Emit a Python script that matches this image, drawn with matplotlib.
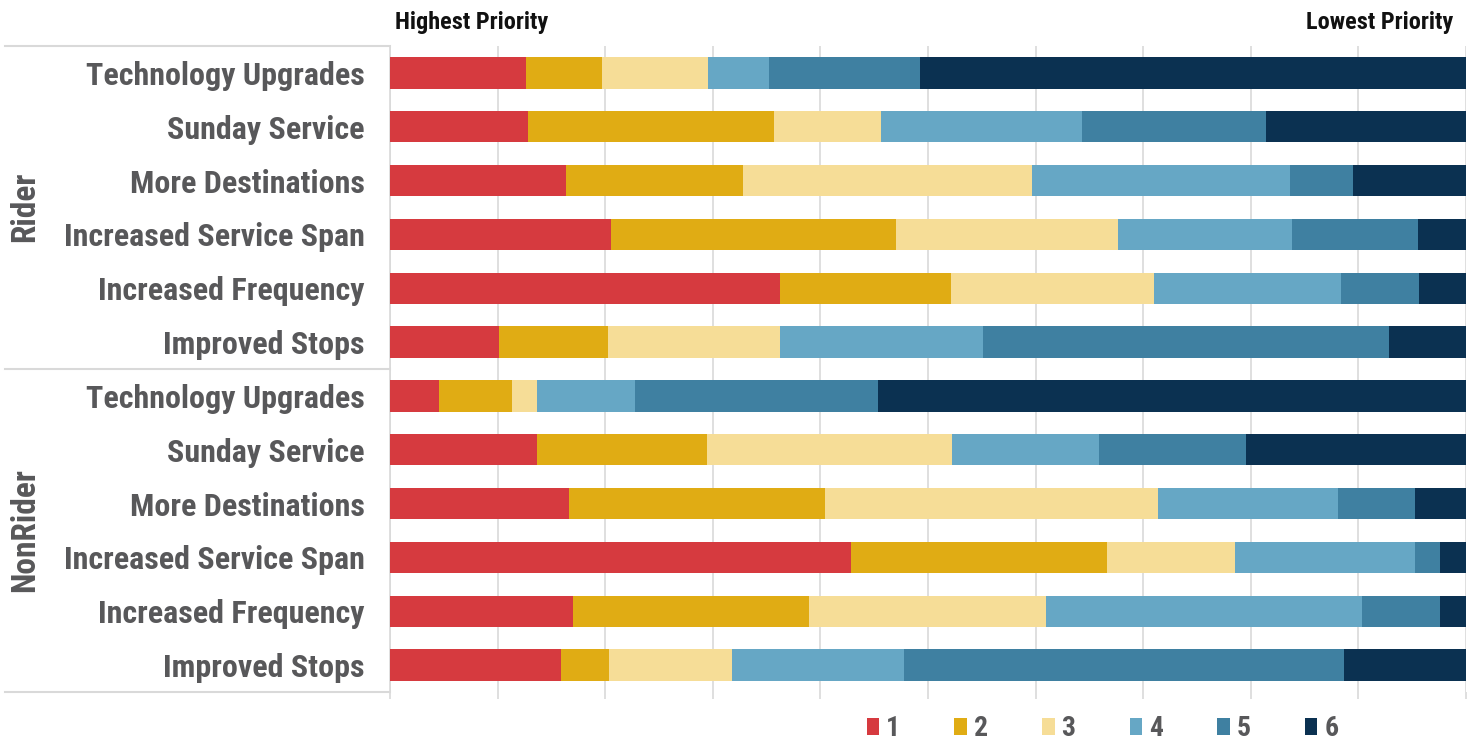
import numpy as np
import matplotlib
matplotlib.use('agg')
import matplotlib.pyplot as plt
from matplotlib.patches import Patch
from matplotlib import font_manager

# survey: share of respondents ranking each improvement 1 (highest) .. 6 (lowest)
categories = ['Technology Upgrades', 'Sunday Service', 'More Destinations',
              'Increased Service Span', 'Increased Frequency', 'Improved Stops']
groups = ['Rider', 'NonRider']
ranks = ['1', '2', '3', '4', '5', '6']

rider = [
    [12.6, 7.1, 9.9, 5.6, 14.1, 50.7],
    [12.8, 22.9, 9.9, 18.7, 17.1, 18.6],
    [16.4, 16.4, 26.9, 23.9, 5.9, 10.5],
    [20.5, 26.5, 20.7, 16.1, 11.7, 4.5],
    [36.2, 15.9, 18.9, 17.4, 7.2, 4.4],
    [10.1, 10.2, 15.9, 18.9, 37.7, 7.2],
]
nonrider = [
    [4.6, 6.7, 2.4, 9.1, 22.6, 54.6],
    [13.7, 15.8, 22.7, 13.7, 13.7, 20.4],
    [16.6, 23.8, 31.0, 16.7, 7.2, 4.7],
    [42.8, 23.8, 11.9, 16.8, 2.3, 2.4],
    [17.0, 21.9, 22.1, 29.3, 7.3, 2.4],
    [15.9, 4.5, 11.4, 16.0, 40.9, 11.3],
]

colors = ['#d63a3f', '#e0ac14', '#f6dd97', '#66a7c5', '#3f80a1', '#0b3151']
label_color = '#58585a'

available = {f.name for f in font_manager.fontManager.ttflist}
family = 'DejaVu Sans'
for name in ['Liberation Sans Narrow', 'Roboto Condensed', 'DejaVu Sans Condensed']:
    if name in available:
        family = name
        break
plt.rcParams['font.family'] = [family, 'DejaVu Sans']

data = np.array(rider + nonrider)
labels = categories + categories
n = len(labels)
y = np.arange(n)

fig = plt.figure(figsize=(14.75, 7.42), dpi=100)
ax = fig.add_axes([0.2644, 0.0674, 0.9939 - 0.2644, 0.938 - 0.0674])

left = np.zeros(n)
for j, r in enumerate(ranks):
    ax.barh(y, data[:, j], left=left, height=0.58, color=colors[j], zorder=3, linewidth=0)
    left += data[:, j]

ax.set_xlim(0, 100)
ax.set_ylim(n - 0.5, -0.5)
ax.set_xticks(np.arange(0, 101, 10))
ax.set_xticklabels([])
ax.tick_params(axis='x', length=5, color='#d9d9d9', width=1.2)
ax.xaxis.grid(True, color='#d9d9d9', linewidth=1.2, zorder=0)
ax.set_yticks(y)
ax.set_yticklabels(labels, fontsize=23, fontweight='black', color=label_color)
ax.tick_params(axis='y', length=0, pad=18)
for s in ['top', 'right', 'bottom']:
    ax.spines[s].set_visible(False)
ax.spines['left'].set_color('#d9d9d9')
ax.spines['left'].set_linewidth(1.2)

# group separators and group labels on the left
x0 = 5 / 1475
x1 = 390 / 1475
for yy in [46, 369, 692]:
    fy = 1 - yy / 742
    fig.add_artist(plt.Line2D([x0, x1], [fy, fy], color='#d9d9d9', lw=1.5))
fig.text(25 / 1475, 1 - 207 / 742, 'Rider', rotation=90, ha='center', va='center',
         fontsize=24, fontweight='black', color=label_color)
fig.text(25 / 1475, 1 - 530 / 742, 'NonRider', rotation=90, ha='center', va='center',
         fontsize=24, fontweight='black', color=label_color)

fig.text(395 / 1475, 1 - 22 / 742, 'Highest Priority', ha='left', va='center',
         fontsize=17.5, fontweight='black', color='#111111')
fig.text(1453 / 1475, 1 - 22 / 742, 'Lowest Priority', ha='right', va='center',
         fontsize=17.5, fontweight='black', color='#111111')

handles = [Patch(facecolor=c, edgecolor='none') for c in colors]
fig.legend(handles, ranks, loc='center left', bbox_to_anchor=(850 / 1475, 1 - 729 / 742),
           ncol=6, frameon=False, handlelength=0.45, handleheight=0.55, handletextpad=0.25,
           columnspacing=1.95, borderpad=0.1,
           prop={'size': 20, 'weight': 'black', 'family': [family, 'DejaVu Sans']},
           labelcolor=label_color)

fig.savefig('out.png', dpi=100)
